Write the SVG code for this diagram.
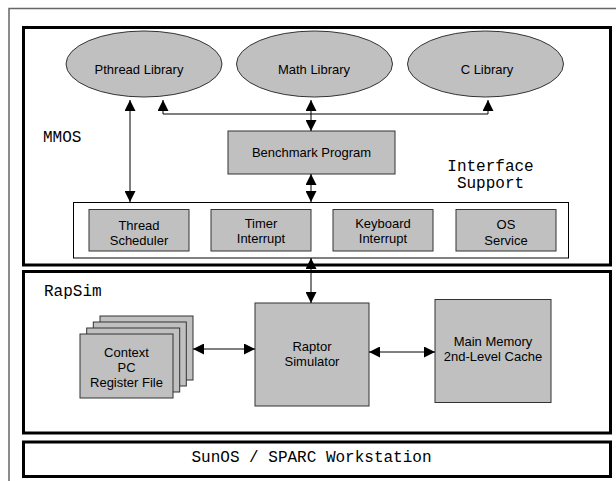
<svg xmlns="http://www.w3.org/2000/svg" width="616" height="481" viewBox="0 0 616 481">
<defs>
<marker id="ah" viewBox="0 0 11 11" refX="11" refY="5.5" markerWidth="11" markerHeight="11" markerUnits="userSpaceOnUse" orient="auto-start-reverse">
<path d="M0,0 L11,5.5 L0,11 z" fill="#000"/>
</marker>
<style>
.frame{fill:none;stroke:#666;stroke-width:1.5}
.layer{fill:#fff;stroke:#000;stroke-width:3}
.box{fill:#c0c0c0;stroke:#333;stroke-width:1}
.iface{fill:#fff;stroke:#000;stroke-width:1}
.lbl{font-family:"Liberation Sans",Arial,sans-serif;font-size:13px;fill:#000;text-anchor:middle}
.mono{font-family:"Liberation Mono","Courier New",monospace;font-size:16px;fill:#000}
.conn line,.conn path{fill:none;stroke:#000;stroke-width:1;marker-start:url(#ah);marker-end:url(#ah)}
</style>
</defs>
<rect width="616" height="481" fill="#fff"/>
<rect class="frame" x="9" y="8.5" width="620" height="480"/>

<g id="mmos">
<rect class="layer" x="23.5" y="27.5" width="587" height="237.5"/>
<text class="mono" x="43" y="142">MMOS</text>
</g>
<g id="rapsim">
<rect class="layer" x="23.5" y="271.5" width="587" height="161.5"/>
<text class="mono" x="44" y="296">RapSim</text>
</g>
<g id="sunos">
<rect class="layer" x="23.5" y="442" width="587" height="34.5"/>
<text class="mono" x="311.5" y="462" text-anchor="middle">SunOS / SPARC Workstation</text>
</g>

<g id="pthread">
<ellipse class="box" cx="144" cy="64" rx="78" ry="33"/>
<text class="lbl" x="139" y="74">Pthread Library</text>
</g>
<g id="math">
<ellipse class="box" cx="314.5" cy="64" rx="78" ry="33"/>
<text class="lbl" x="314" y="74">Math Library</text>
</g>
<g id="clib">
<ellipse class="box" cx="485.5" cy="64" rx="78" ry="33"/>
<text class="lbl" x="487" y="74">C Library</text>
</g>

<g id="benchmark">
<rect class="box" x="228" y="131" width="167" height="43"/>
<text class="lbl" x="311.5" y="157">Benchmark Program</text>
</g>

<g id="interface">
<rect class="iface" x="73.5" y="202.5" width="495" height="55.5"/>
<text class="mono" x="490.5" y="171" text-anchor="middle">Interface</text>
<text class="mono" x="490.5" y="188" text-anchor="middle">Support</text>
</g>
<g id="thread">
<rect class="box" x="89" y="209.5" width="100" height="41.5"/>
<text class="lbl" x="139" y="230">Thread</text>
<text class="lbl" x="139" y="245">Scheduler</text>
</g>
<g id="timer">
<rect class="box" x="211" y="209.5" width="100" height="41.5"/>
<text class="lbl" x="261" y="228">Timer</text>
<text class="lbl" x="261" y="243">Interrupt</text>
</g>
<g id="keyboard">
<rect class="box" x="333" y="209.5" width="100" height="41.5"/>
<text class="lbl" x="383" y="228">Keyboard</text>
<text class="lbl" x="383" y="243">Interrupt</text>
</g>
<g id="os">
<rect class="box" x="456" y="209.5" width="100" height="41.5"/>
<text class="lbl" x="506" y="229">OS</text>
<text class="lbl" x="506" y="245">Service</text>
</g>

<g id="context">
<rect class="box" x="100" y="316" width="93" height="64"/>
<rect class="box" x="93.3" y="322" width="93" height="64"/>
<rect class="box" x="86.7" y="328" width="93" height="64"/>
<rect class="box" x="80" y="334" width="93" height="64"/>
<text class="lbl" x="126.5" y="357">Context</text>
<text class="lbl" x="126.5" y="372">PC</text>
<text class="lbl" x="126.5" y="387">Register File</text>
</g>
<g id="raptor">
<rect class="box" x="255" y="303" width="114" height="103"/>
<text class="lbl" x="312" y="351">Raptor</text>
<text class="lbl" x="312" y="366">Simulator</text>
</g>
<g id="memory">
<rect class="box" x="435" y="299.5" width="116" height="103"/>
<text class="lbl" x="493" y="346">Main Memory</text>
<text class="lbl" x="493" y="361">2nd-Level Cache</text>
</g>

<g id="connectors" class="conn">
<line x1="130" y1="100" x2="130" y2="202"/>
<path d="M163,100 V114 H488 V100"/>
<line x1="311" y1="100" x2="311" y2="131"/>
<line x1="311" y1="174" x2="311" y2="202"/>
<line x1="311" y1="258" x2="311" y2="303"/>
<line x1="193" y1="349" x2="255" y2="349"/>
<line x1="369" y1="352" x2="435" y2="352"/>
</g>
</svg>
